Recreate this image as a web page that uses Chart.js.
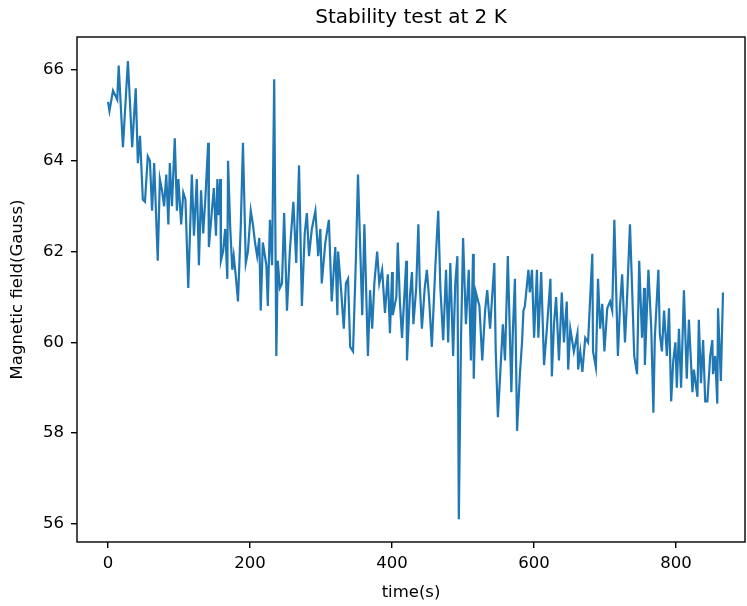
<!DOCTYPE html>
<html>
<head>
<meta charset="utf-8">
<script src="https://cdn.jsdelivr.net/npm/chart.js@4.4.1/dist/chart.umd.min.js"></script>
<style>
  html, body { margin: 0; padding: 0; background: #fff; }
  #wrap { width: 747px; height: 606px; }
</style>
</head>
<body>
<div id="wrap"><canvas id="lineChart" width="747" height="606"></canvas></div>
<script>
// time in seconds
var times = [0, 2, 7, 13, 15, 21, 28, 34, 39, 42, 45, 49, 52, 56, 59, 62, 65, 70, 73, 76,
  79, 82, 85, 87, 90, 94, 97, 99, 103, 106, 109, 113, 118, 121, 125, 128, 131, 134, 137, 141,
  142, 146, 149, 152, 154, 156, 158, 159, 162, 165, 168, 169, 172, 175, 177, 180, 183, 187, 190, 194,
  197, 201, 204, 207, 210, 213, 215, 218, 223, 225, 228, 231, 234, 237, 239, 242, 245, 248, 252, 256,
  261, 265, 269, 273, 277, 280, 283, 287, 292, 296, 299, 301, 306, 311, 315, 320, 323, 324, 328, 332,
  335, 338, 341, 345, 349, 352, 358, 361, 366, 369, 372, 375, 379, 382, 386, 390, 394, 397, 400, 401,
  406, 408, 411, 414, 420, 421, 425, 428, 430, 434, 437, 439, 442, 446, 449, 452, 456, 461, 465, 468,
  472, 476, 479, 482, 486, 489, 492, 494, 497, 500, 504, 508, 511, 514, 515, 518, 523, 527, 531, 534,
  538, 544, 546, 549, 554, 556, 559, 563, 568, 570, 573, 576, 580, 583, 585, 587, 592, 594, 597, 600,
  604, 606, 610, 614, 618, 623, 625, 628, 631, 635, 639, 642, 646, 648, 651, 654, 656, 661, 662, 665,
  668, 672, 676, 682, 683, 687, 690, 693, 696, 699, 703, 707, 710, 713, 718, 721, 724, 728, 731, 735,
  738, 741, 745, 748, 752, 755, 756, 761, 765, 768, 770, 775, 777, 780, 783, 787, 790, 793, 796, 799,
  801, 804, 807, 811, 815, 818, 823, 825, 830, 832, 835, 838, 841, 844, 848, 851, 852, 855, 858, 859,
  863, 866];

// magnetic field in Gauss
var field = [65.3, 65.1, 65.55, 65.35, 66.1, 64.3, 66.2, 64.3, 65.6, 63.95, 64.55, 63.15, 63.1, 64.1, 64.0, 62.9, 63.95, 61.8, 63.6, 63.35,
  63.0, 63.7, 62.6, 63.95, 63.0, 64.5, 62.9, 63.6, 62.6, 63.3, 63.15, 61.2, 63.7, 62.35, 63.6, 61.7, 63.35, 62.4, 63.15, 64.4,
  62.1, 62.85, 63.4, 62.35, 63.6, 62.8, 63.6, 61.8, 62.0, 62.5, 61.4, 64.0, 62.55, 61.6, 61.9, 61.45, 60.9, 62.6, 64.4, 61.75,
  62.0, 62.9, 62.6, 62.2, 61.9, 62.3, 60.7, 62.2, 61.7, 60.8, 62.7, 61.7, 65.8, 59.7, 61.8, 61.2, 61.3, 62.85, 60.7, 62.0,
  63.1, 61.75, 63.9, 60.8, 62.4, 62.85, 61.9, 62.5, 62.9, 61.9, 62.5, 61.3, 62.2, 62.7, 60.9, 62.1, 60.6, 62.0, 61.2, 60.3,
  61.3, 61.4, 59.9, 59.8, 61.8, 63.7, 60.6, 62.6, 59.7, 61.15, 60.3, 61.3, 62.0, 61.3, 61.6, 60.65, 61.5, 60.2, 61.55, 60.6,
  61.0, 62.2, 60.9, 60.1, 61.8, 59.6, 61.0, 61.55, 60.4, 61.2, 62.6, 61.3, 60.3, 61.2, 61.6, 61.0, 59.9, 61.7, 62.9, 61.2,
  60.05, 61.6, 60.0, 61.75, 59.7, 61.3, 61.9, 56.1, 60.0, 62.3, 60.4, 61.6, 59.6, 61.95, 59.2, 61.1, 60.8, 59.6, 60.7, 61.15,
  60.3, 61.75, 59.8, 58.35, 59.8, 60.4, 59.6, 61.9, 58.9, 60.2, 61.4, 58.05, 59.3, 60.0, 60.7, 60.8, 61.6, 61.1, 61.6, 60.1,
  61.6, 60.1, 61.55, 59.5, 60.3, 61.4, 59.25, 60.4, 61.0, 59.6, 61.1, 60.0, 60.9, 59.4, 60.3, 60.0, 59.8, 60.2, 59.4, 59.8,
  59.35, 60.1, 60.0, 61.95, 59.8, 59.45, 61.4, 60.3, 60.85, 59.8, 60.75, 60.9, 60.7, 62.7, 59.7, 60.8, 61.5, 60.0, 61.0, 62.6,
  61.2, 59.7, 59.3, 61.8, 60.1, 61.2, 59.5, 61.6, 60.3, 58.45, 60.1, 61.6, 60.2, 59.8, 60.7, 59.7, 60.75, 58.7, 59.6, 60.0,
  59.0, 60.3, 59.0, 61.15, 59.2, 60.5, 58.9, 59.4, 58.8, 60.5, 59.1, 60.05, 58.7, 58.7, 59.7, 60.05, 59.3, 59.7, 58.65, 60.75,
  59.15, 61.1];

var xTicks = [0, 200, 400, 600, 800];
var yTicks = [56, 58, 60, 62, 64, 66];

var points = times.map(function (t, i) { return { x: t, y: field[i] }; });

// box round the plot, like the four spines
var frame = {
  id: 'frame',
  afterDraw: function (chart) {
    var a = chart.chartArea, c = chart.ctx;
    c.save();
    c.strokeStyle = '#000';
    c.lineWidth = 1.4;
    c.strokeRect(Math.round(a.left), Math.round(a.top),
      Math.round(a.right - a.left), Math.round(a.bottom - a.top));
    c.restore();
  }
};

var ctx = document.getElementById('lineChart').getContext('2d');
var lineChart = new Chart(ctx, {
  type: 'line',
  data: {
    datasets: [{
      data: points,
      borderColor: '#1f77b4',
      borderWidth: 2.2,
      pointRadius: 0,
      tension: 0,
      fill: false
    }]
  },
  options: {
    responsive: false,
    animation: false,
    layout: { padding: { left: 0, right: 2, top: 0, bottom: 0 } },
    plugins: {
      legend: { display: false },
      tooltip: { enabled: false },
      title: {
        display: true,
        text: 'Stability test at 2 K',
        fullSize: false,
        color: '#000',
        font: { family: 'DejaVu Sans', size: 20, weight: 'normal' },
        padding: { top: 6, bottom: 7 }
      }
    },
    scales: {
      x: {
        type: 'linear',
        min: -43.7,
        max: 897,
        afterBuildTicks: function (s) { s.ticks = xTicks.map(function (v) { return { value: v }; }); },
        afterFit: function (s) { s.height = 64; },
        grid: { drawOnChartArea: false, drawTicks: true, tickLength: 6, lineWidth: 1.4, color: '#000' },
        border: { display: false },
        ticks: { color: '#000', padding: 6, maxRotation: 0, font: { family: 'DejaVu Sans', size: 16.5 } },
        title: {
          display: true,
          text: 'time(s)',
          color: '#000',
          font: { family: 'DejaVu Sans', size: 16.5 },
          padding: { top: 3, bottom: 3 }
        }
      },
      y: {
        type: 'linear',
        min: 55.6,
        max: 66.73,
        afterBuildTicks: function (s) { s.ticks = yTicks.map(function (v) { return { value: v }; }); },
        afterFit: function (s) { s.width = 77; },
        grid: { drawOnChartArea: false, drawTicks: true, tickLength: 6, lineWidth: 1.4, color: '#000' },
        border: { display: false },
        ticks: { color: '#000', padding: 7, font: { family: 'DejaVu Sans', size: 16.5 } },
        title: {
          display: true,
          text: 'Magnetic field(Gauss)',
          color: '#000',
          font: { family: 'DejaVu Sans', size: 16.5 },
          padding: { top: 8, bottom: 4 }
        }
      }
    }
  },
  plugins: [frame]
});
</script>
</body>
</html>
